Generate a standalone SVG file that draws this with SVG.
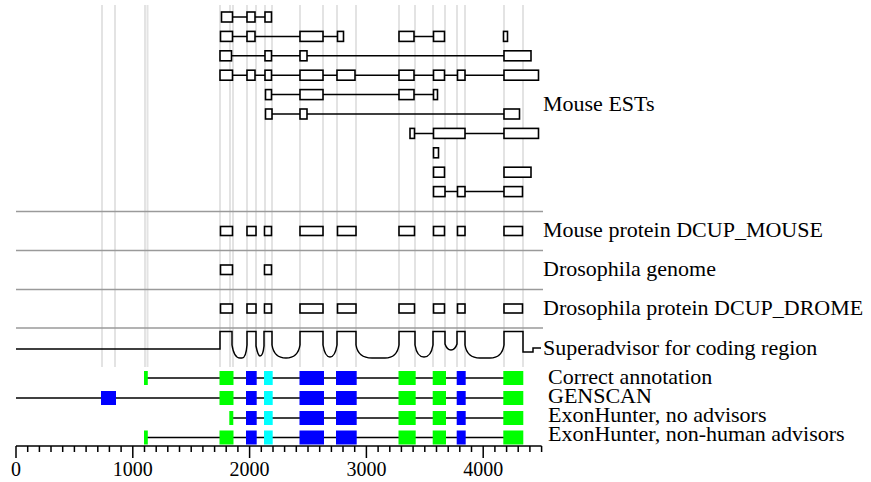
<svg xmlns="http://www.w3.org/2000/svg" width="871" height="482" viewBox="0 0 871 482">
<style>
.bg{fill:#fff}
.vg{stroke:#e3e3e3;stroke-width:2;fill:none}
.sep{stroke:#9a9a9a;stroke-width:1.5;fill:none}
.ln{stroke:#000;stroke-width:1.5;fill:none}
.bx{fill:#fff;stroke:#000;stroke-width:1.6}
.lbl{font-family:"Liberation Serif","Times New Roman",serif;font-size:22px;fill:#000}
.ax{font-family:"Liberation Serif","Times New Roman",serif;font-size:20px;fill:#000;text-anchor:middle}
.g{fill:#00ff00}
.b{fill:#0000ff}
.c{fill:#00ffff}
</style>
<defs>
<path id="tk" d="M0,0 v6"/>
</defs>
<rect class="bg" x="0" y="0" width="871" height="482"/>
<g id="guides" class="vg">
<path d="M102,5V367M115,5V367M145,5V367M147.5,5V367M220,5V367M230,5V367M233,5V367M247,5V367M256,5V367M265,5V367M272,5V367M300,5V367M323,5V367M337,5V367M356,5V367M399,5V367M415,5V367M433,5V367M445,5V367M457,5V367M465,5V367M504,5V367M523,5V367"/>
</g>
<g id="separators" class="sep">
<path d="M16,211.5H543M16,250.5H543M16,289.5H543M16,328H543"/>
</g>
<g id="connectors" class="ln">
<path d="M232.5,17H247M255,17H265"/>
<path d="M232.5,36.4H247M255,36.4H300M323,36.4H337M414,36.4H433"/>
<path d="M231.5,55.8H265M271.5,55.8H300M307,55.8H504"/>
<path d="M232.5,75.2H247M255,75.2H265M271.5,75.2H300M323,75.2H337M355,75.2H399M414,75.2H433M444,75.2H457M465,75.2H504"/>
<path d="M271.5,94.6H300M323,94.6H399M414,94.6H433"/>
<path d="M272,114H300M307,114H504"/>
<path d="M414,133.4H433M465,133.4H504"/>
<path d="M445,191.6H457M465,191.6H504"/>
</g>
<g id="mouse-ests">
<rect class="bx" x="221.5" y="12" width="11" height="10"/>
<rect class="bx" x="247" y="12" width="8" height="10"/>
<rect class="bx" x="265" y="12" width="6.5" height="10"/>
<rect class="bx" x="220.5" y="31.4" width="12" height="10"/>
<rect class="bx" x="247" y="31.4" width="8" height="10"/>
<rect class="bx" x="300" y="31.4" width="23" height="10"/>
<rect class="bx" x="337.5" y="31.4" width="6" height="10"/>
<rect class="bx" x="399" y="31.4" width="15" height="10"/>
<rect class="bx" x="433.5" y="31.4" width="11" height="10"/>
<rect class="bx" x="503.5" y="31.4" width="4" height="10"/>
<rect class="bx" x="220" y="50.8" width="11.5" height="10"/>
<rect class="bx" x="265" y="50.8" width="6.5" height="10"/>
<rect class="bx" x="300" y="50.8" width="7" height="10"/>
<rect class="bx" x="504" y="50.8" width="27" height="10"/>
<rect class="bx" x="220" y="70.2" width="12.5" height="10"/>
<rect class="bx" x="247" y="70.2" width="8" height="10"/>
<rect class="bx" x="265" y="70.2" width="6.5" height="10"/>
<rect class="bx" x="300" y="70.2" width="23" height="10"/>
<rect class="bx" x="337" y="70.2" width="18" height="10"/>
<rect class="bx" x="399" y="70.2" width="15" height="10"/>
<rect class="bx" x="433.5" y="70.2" width="11" height="10"/>
<rect class="bx" x="457.5" y="70.2" width="7.5" height="10"/>
<rect class="bx" x="504" y="70.2" width="34.5" height="10"/>
<rect class="bx" x="265.5" y="89.6" width="6" height="10"/>
<rect class="bx" x="300" y="89.6" width="23" height="10"/>
<rect class="bx" x="399" y="89.6" width="15" height="10"/>
<rect class="bx" x="433.5" y="89.6" width="4" height="10"/>
<rect class="bx" x="265.5" y="109" width="6.5" height="10"/>
<rect class="bx" x="300" y="109" width="7" height="10"/>
<rect class="bx" x="504" y="109" width="15.5" height="10"/>
<rect class="bx" x="410" y="128.4" width="4.5" height="10"/>
<rect class="bx" x="433.5" y="128.4" width="31.5" height="10"/>
<rect class="bx" x="504" y="128.4" width="34.5" height="10"/>
<rect class="bx" x="433.5" y="147.8" width="5" height="10"/>
<rect class="bx" x="433.5" y="167.2" width="11" height="10"/>
<rect class="bx" x="504" y="167.2" width="27" height="10"/>
<rect class="bx" x="433.5" y="186.6" width="11.5" height="10"/>
<rect class="bx" x="457.5" y="186.6" width="7.5" height="10"/>
<rect class="bx" x="504" y="186.6" width="18.5" height="10"/>
<text class="lbl" x="543" y="110.5">Mouse ESTs</text>
</g>
<g id="mouse-protein">
<rect class="bx" x="220.5" y="226.5" width="12" height="9"/>
<rect class="bx" x="247" y="226.5" width="9" height="9"/>
<rect class="bx" x="264.5" y="226.5" width="7" height="9"/>
<rect class="bx" x="300" y="226.5" width="23" height="9"/>
<rect class="bx" x="337.5" y="226.5" width="18.5" height="9"/>
<rect class="bx" x="399" y="226.5" width="15.5" height="9"/>
<rect class="bx" x="433.5" y="226.5" width="11" height="9"/>
<rect class="bx" x="457.5" y="226.5" width="7.5" height="9"/>
<rect class="bx" x="504" y="226.5" width="18.5" height="9"/>
<text class="lbl" x="543" y="237">Mouse protein DCUP_MOUSE</text>
</g>
<g id="drosophila-genome">
<rect class="bx" x="220.5" y="265" width="12" height="9.5"/>
<rect class="bx" x="264.5" y="265" width="7" height="9.5"/>
<text class="lbl" x="543" y="276">Drosophila genome</text>
</g>
<g id="drosophila-protein">
<rect class="bx" x="220.5" y="304" width="12" height="9"/>
<rect class="bx" x="247" y="304" width="9" height="9"/>
<rect class="bx" x="264.5" y="304" width="7" height="9"/>
<rect class="bx" x="300" y="304" width="23" height="9"/>
<rect class="bx" x="337.5" y="304" width="18.5" height="9"/>
<rect class="bx" x="399" y="304" width="15.5" height="9"/>
<rect class="bx" x="433.5" y="304" width="11" height="9"/>
<rect class="bx" x="457.5" y="304" width="7.5" height="9"/>
<rect class="bx" x="504" y="304" width="18.5" height="9"/>
<text class="lbl" x="543" y="315">Drosophila protein DCUP_DROME</text>
</g>
<g id="superadvisor">
<path class="ln" d="M16,349H220V331.5H232V345Q234,358 240,358H242Q246,358 247,345V331.5H256V346Q258,356 260,356Q263,356 264,346V331.5H272V345Q274,358 286,358Q298,358 300,345V331.5H323V345Q325,357 330,357Q335,357 337,345V331.5H356V345Q358,358 372,358H385Q397,358 399,345V331.5H415V345Q417,357 424,357Q431,357 433,345V331.5H445V344Q447,350 451,350Q455,350 457,344V331.5H465V345Q467,358 480,358H490Q502,358 504,345V331.5H523V352H533V348H541"/>
<text class="lbl" x="543" y="355">Superadvisor for coding region</text>
</g>
<g id="correct-annotation">
<path class="ln" d="M146,378H523"/>
<rect class="g" x="144" y="371" width="3.8" height="14"/>
<rect class="g" x="219.5" y="371" width="14" height="14"/>
<rect class="b" x="246" y="371" width="10.7" height="14"/>
<rect class="c" x="264" y="371" width="8.7" height="14"/>
<rect class="b" x="299.5" y="371" width="24.5" height="14"/>
<rect class="b" x="336" y="371" width="20.7" height="14"/>
<rect class="g" x="398.5" y="371" width="17.2" height="14"/>
<rect class="g" x="432.7" y="371" width="13.3" height="14"/>
<rect class="b" x="456.7" y="371" width="9" height="14"/>
<rect class="g" x="503.3" y="371" width="20" height="14"/>
<text class="lbl" x="548" y="384">Correct annotation</text>
</g>
<g id="genscan">
<path class="ln" d="M16,398H523"/>
<rect class="b" x="101" y="391" width="15" height="14"/>
<rect class="g" x="219.5" y="391" width="14" height="14"/>
<rect class="b" x="246" y="391" width="10.7" height="14"/>
<rect class="c" x="264" y="391" width="8.7" height="14"/>
<rect class="b" x="299.5" y="391" width="24.5" height="14"/>
<rect class="b" x="336" y="391" width="20.7" height="14"/>
<rect class="g" x="398.5" y="391" width="17.2" height="14"/>
<rect class="g" x="432.7" y="391" width="13.3" height="14"/>
<rect class="b" x="456.7" y="391" width="9" height="14"/>
<rect class="g" x="503.3" y="391" width="20" height="14"/>
<text class="lbl" x="548" y="403">GENSCAN</text>
</g>
<g id="exonhunter-no-advisors">
<path class="ln" d="M231,418H523"/>
<rect class="g" x="229.3" y="411" width="4" height="14"/>
<rect class="b" x="246" y="411" width="10.7" height="14"/>
<rect class="c" x="264" y="411" width="8.7" height="14"/>
<rect class="b" x="299.5" y="411" width="24.5" height="14"/>
<rect class="b" x="336" y="411" width="20.7" height="14"/>
<rect class="g" x="398.5" y="411" width="17.2" height="14"/>
<rect class="g" x="432.7" y="411" width="13.3" height="14"/>
<rect class="b" x="456.7" y="411" width="9" height="14"/>
<rect class="g" x="503.3" y="411" width="20" height="14"/>
<text class="lbl" x="548" y="422">ExonHunter, no advisors</text>
</g>
<g id="exonhunter-non-human">
<path class="ln" d="M146,437.5H523"/>
<rect class="g" x="144" y="430.5" width="3.8" height="14"/>
<rect class="g" x="219.5" y="430.5" width="14" height="14"/>
<rect class="b" x="246" y="430.5" width="10.7" height="14"/>
<rect class="c" x="264" y="430.5" width="8.7" height="14"/>
<rect class="b" x="299.5" y="430.5" width="24.5" height="14"/>
<rect class="b" x="336" y="430.5" width="20.7" height="14"/>
<rect class="g" x="398.5" y="430.5" width="17.2" height="14"/>
<rect class="g" x="432.7" y="430.5" width="13.3" height="14"/>
<rect class="b" x="456.7" y="430.5" width="9" height="14"/>
<rect class="g" x="503.3" y="430.5" width="20" height="14"/>
<text class="lbl" x="548" y="441">ExonHunter, non-human advisors</text>
</g>
<g id="axis">
<path class="ln" d="M16,446H541.6"/>
<path class="ln" d="M16,446v12M132.8,446v12M249.6,446v12M366.4,446v12M483.2,446v12"/>
<path class="ln" d="M27.7,446v6M39.4,446v6M51,446v6M62.7,446v6M74.4,446v6M86.1,446v6M97.8,446v6M109.4,446v6M121.1,446v6M144.5,446v6M156.2,446v6M167.8,446v6M179.5,446v6M191.2,446v6M202.9,446v6M214.6,446v6M226.2,446v6M237.9,446v6M261.3,446v6M273,446v6M284.6,446v6M296.3,446v6M308,446v6M319.7,446v6M331.4,446v6M343,446v6M354.7,446v6M378.1,446v6M389.8,446v6M401.4,446v6M413.1,446v6M424.8,446v6M436.5,446v6M448.2,446v6M459.8,446v6M471.5,446v6M494.9,446v6M506.6,446v6M518.2,446v6M529.9,446v6M541.6,446v6"/>
<text class="ax" x="16" y="476">0</text>
<text class="ax" x="132.8" y="476">1000</text>
<text class="ax" x="249.6" y="476">2000</text>
<text class="ax" x="366.4" y="476">3000</text>
<text class="ax" x="483.2" y="476">4000</text>
</g>
</svg>
